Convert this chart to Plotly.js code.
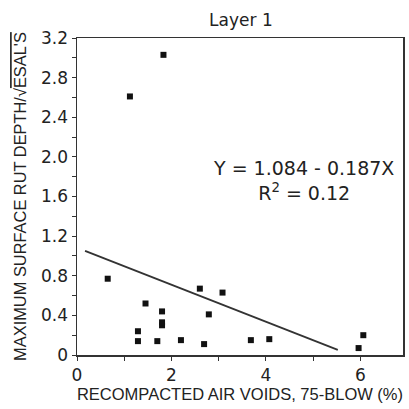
<!DOCTYPE html>
<html>
<head>
<meta charset="utf-8">
<script src="https://cdn.plot.ly/plotly-3.0.1.min.js"></script>
<style>html,body{margin:0;padding:0;background:#fff;}#chart{width:409px;height:409px;}</style>
</head>
<body>
<div id="chart"></div>
<script>
// Data
const airVoids = [0.65, 1.12, 1.83, 1.45, 1.29, 1.29, 1.70, 1.80, 1.80, 1.80, 2.20, 2.60, 2.79, 2.69, 3.08, 3.68, 4.07, 5.96, 6.06];
const rutDepth = [0.77, 2.61, 3.03, 0.52, 0.24, 0.14, 0.14, 0.44, 0.30, 0.33, 0.15, 0.67, 0.41, 0.11, 0.63, 0.15, 0.16, 0.07, 0.20];
const fitX = [0.17, 5.52];
const fitY = [1.052, 0.052];
const xTickVals = [0, 2, 4, 6];
const xTickText = ["0", "2", "4", "6"];
const yTickVals = [0, 0.4, 0.8, 1.2, 1.6, 2.0, 2.4, 2.8, 3.2];
const yTickText = ["0", "0.4", "0.8", "1.2", "1.6", "2.0", "2.4", "2.8", "3.2"];
const titleText = "Layer 1";
const xTitle = "RECOMPACTED AIR VOIDS, 75-BLOW (%)";
const yTitle = "MAXIMUM SURFACE RUT DEPTH/√<span style='text-decoration:overline'>ESAL'S</span>";
const eqText = "Y = 1.084 - 0.187X<br>R<sup>2</sup> = 0.12";

const font = "DejaVu Sans, Liberation Sans, sans-serif";
const narrow = "Liberation Sans, sans-serif";

const traces = [
  {x: fitX, y: fitY, mode: 'lines', type: 'scatter', line: {color: '#333', width: 1.8}, hoverinfo: 'skip'},
  {x: airVoids, y: rutDepth, mode: 'markers', type: 'scatter',
   marker: {symbol: 'square', size: 6, color: '#111'}}
];

const layout = {
  width: 409, height: 409,
  margin: {l: 77, r: 6, t: 38, b: 54},
  paper_bgcolor: '#fff', plot_bgcolor: '#fff',
  showlegend: false,
  title: {text: titleText, font: {family: font, size: 17, color: '#222'},
          xref: 'container', yref: 'container', x: 0.589, xanchor: 'center', y: 0.951, yanchor: 'middle'},
  xaxis: {
    range: [0, 6.9], tickvals: xTickVals, ticktext: xTickText,
    showgrid: false, zeroline: false, showline: true, linecolor: '#333', linewidth: 1.5,
    mirror: true, ticks: 'outside', ticklen: 4, tickcolor: '#333',
    minor: {dtick: 1, tick0: 0, ticks: 'outside', ticklen: 4, tickcolor: '#333', showgrid: false},
    tickfont: {family: font, size: 17, color: '#222'},
    title: {text: xTitle, font: {family: narrow, size: 16.5, color: '#222'}, standoff: 4}
  },
  yaxis: {
    range: [0, 3.2], tickvals: yTickVals, ticktext: yTickText,
    showgrid: false, zeroline: false, showline: true, linecolor: '#333', linewidth: 1.5,
    mirror: true, ticks: 'outside', ticklen: 4, tickcolor: '#333',
    minor: {dtick: 0.2, tick0: 0, ticks: 'outside', ticklen: 4, tickcolor: '#333', showgrid: false},
    tickfont: {family: font, size: 17, color: '#222'},
    title: {text: yTitle, font: {family: narrow, size: 16.4, color: '#222'}, standoff: 10}
  },
  annotations: [{
    xref: 'x', yref: 'y', x: 4.8, y: 1.76, text: eqText, showarrow: false,
    font: {family: font, size: 19, color: '#222'}, align: 'center'
  }]
};

Plotly.newPlot('chart', traces, layout, {displayModeBar: false, staticPlot: true});
</script>
</body>
</html>
